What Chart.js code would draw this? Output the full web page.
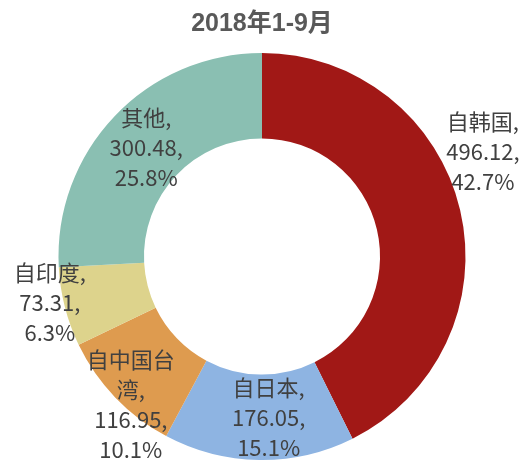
<!DOCTYPE html>
<html>
<head>
<meta charset="utf-8">
<script src="https://cdn.jsdelivr.net/npm/chart.js@4/dist/chart.umd.min.js"></script>
<style>
  html, body { margin: 0; padding: 0; background: #fff; }
  #wrap { width: 524px; height: 461px; }
</style>
</head>
<body>
<div id="wrap"><canvas id="grafico"></canvas></div>
<script>
const titulo = '2018年1-9月';
const categorias = [['自韩国,'], ['自日本,'], ['自中国台', '湾,'], ['自印度,'], ['其他,']];
const valores = [496.12, 176.05, 116.95, 73.31, 300.48];
const porcentajes = ['42.7%', '15.1%', '10.1%', '6.3%', '25.8%'];
const colores = ['#A11816', '#8EB4E2', '#DE9B4F', '#DDD38C', '#8ABFB2'];

// posicion de cada etiqueta: radio desde el centro y ajuste en px
const radioEtiqueta = [230, 161, 161, 218, 161];
const ajusteEtiqueta = [[-3, -52], [9, 0], [-15, 37], [-1, -8], [1, 2]];

const etiquetas = {
  id: 'etiquetas',
  afterDatasetsDraw(chart) {
    const ctx = chart.ctx;
    const meta = chart.getDatasetMeta(0);
    ctx.save();
    ctx.font = '22px "Noto Sans CJK SC", "Noto Sans", sans-serif';
    ctx.fillStyle = '#404040';
    ctx.textAlign = 'center';
    ctx.textBaseline = 'middle';
    meta.data.forEach((arc, i) => {
      const mid = (arc.startAngle + arc.endAngle) / 2;
      const cx = arc.x + radioEtiqueta[i] * Math.cos(mid) + ajusteEtiqueta[i][0];
      const cy = arc.y + radioEtiqueta[i] * Math.sin(mid) + ajusteEtiqueta[i][1];
      const lineas = categorias[i].concat([valores[i].toFixed(2) + ',', porcentajes[i]]);
      const alto = 30;
      const y0 = cy - (lineas.length - 1) * alto / 2;
      lineas.forEach((t, k) => ctx.fillText(t, cx, y0 + k * alto));
    });
    ctx.restore();
  }
};

new Chart(document.getElementById('grafico'), {
  type: 'doughnut',
  data: {
    labels: categorias.map(c => c.join('').replace(',', '')),
    datasets: [{
      data: valores,
      backgroundColor: colores,
      borderWidth: 0,
      hoverOffset: 0
    }]
  },
  options: {
    responsive: true,
    maintainAspectRatio: false,
    animation: false,
    cutout: '58%',
    layout: { padding: { top: 0, bottom: 1, left: 0, right: 0 } },
    plugins: {
      title: {
        display: true,
        text: titulo,
        color: '#595959',
        font: { family: '"Liberation Sans", Arial, "Noto Sans CJK SC", sans-serif', size: 25, weight: 'bold' },
        padding: { top: 9, bottom: 14 }
      },
      legend: { display: false },
      tooltip: { enabled: false }
    }
  },
  plugins: [etiquetas]
});
</script>
</body>
</html>
